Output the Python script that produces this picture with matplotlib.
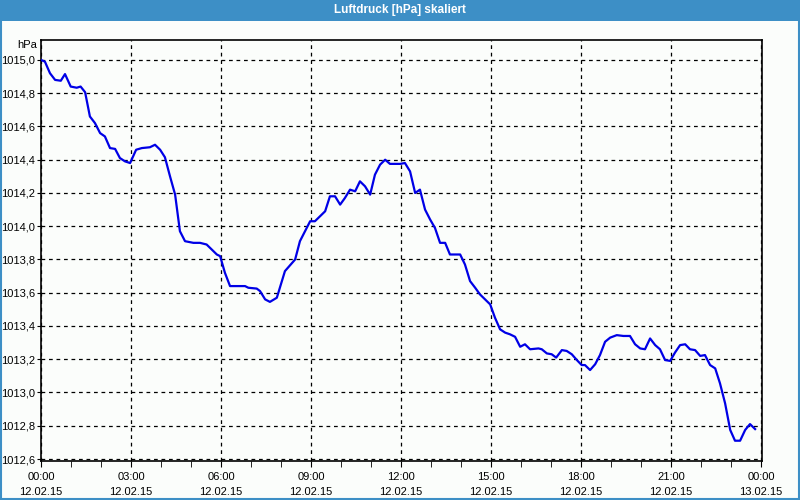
import matplotlib
matplotlib.use("Agg")
import matplotlib.pyplot as plt
from matplotlib.patches import Rectangle
from matplotlib.ticker import MultipleLocator, FuncFormatter

# hours since 12.02.15 00:00
hours = [0.00, 0.13, 0.30, 0.47, 0.66, 0.80, 0.99, 1.19, 1.32, 1.47, 1.63, 1.80,
         1.97, 2.13, 2.30, 2.47, 2.63, 2.80, 2.97, 3.17, 3.36, 3.63, 3.80, 3.97,
         4.13, 4.30, 4.47, 4.63, 4.80, 5.08, 5.30, 5.52, 5.69, 5.86, 5.97, 6.13,
         6.30, 6.80, 6.91, 7.19, 7.30, 7.47, 7.63, 7.86, 8.13, 8.47, 8.63, 8.97,
         9.13, 9.47, 9.63, 9.80, 9.97, 10.13, 10.30, 10.47, 10.63, 10.80, 10.97,
         11.13, 11.30, 11.47, 11.63, 11.97, 12.13, 12.30, 12.47, 12.63, 12.80,
         12.97, 13.13, 13.30, 13.47, 13.63, 13.97, 14.13, 14.30, 14.47, 14.63,
         14.80, 14.97, 15.13, 15.30, 15.47, 15.63, 15.80, 15.97, 16.13, 16.30,
         16.58, 16.69, 16.86, 17.02, 17.17, 17.36, 17.52, 17.69, 17.86, 18.02,
         18.13, 18.30, 18.47, 18.63, 18.80, 18.97, 19.19, 19.41, 19.63, 19.80,
         19.97, 20.13, 20.30, 20.47, 20.63, 20.80, 20.97, 21.13, 21.30, 21.47,
         21.63, 21.80, 21.97, 22.13, 22.30, 22.47, 22.63, 22.80, 22.97, 23.13,
         23.30, 23.47, 23.63, 23.80]

pressure = [1015.00, 1014.99, 1014.92, 1014.88, 1014.875, 1014.915, 1014.84, 1014.833,
            1014.84, 1014.806, 1014.66, 1014.62, 1014.56, 1014.54, 1014.47, 1014.465,
            1014.41, 1014.39, 1014.38, 1014.46, 1014.47, 1014.475, 1014.49, 1014.46,
            1014.415, 1014.30, 1014.19, 1013.97, 1013.91, 1013.90, 1013.90, 1013.89,
            1013.86, 1013.83, 1013.82, 1013.72, 1013.64, 1013.64, 1013.63, 1013.625,
            1013.61, 1013.56, 1013.545, 1013.57, 1013.73, 1013.80, 1013.91, 1014.03,
            1014.03, 1014.09, 1014.18, 1014.18, 1014.13, 1014.17, 1014.22, 1014.21,
            1014.27, 1014.24, 1014.19, 1014.31, 1014.37, 1014.40, 1014.375, 1014.375,
            1014.38, 1014.33, 1014.20, 1014.22, 1014.10, 1014.04, 1013.99, 1013.90,
            1013.90, 1013.83, 1013.83, 1013.77, 1013.67, 1013.63, 1013.59, 1013.56,
            1013.53, 1013.45, 1013.38, 1013.36, 1013.35, 1013.335, 1013.275, 1013.29,
            1013.26, 1013.265, 1013.26, 1013.235, 1013.23, 1013.21, 1013.255, 1013.25,
            1013.23, 1013.195, 1013.165, 1013.165, 1013.135, 1013.17, 1013.225, 1013.305,
            1013.33, 1013.345, 1013.34, 1013.34, 1013.29, 1013.265, 1013.26, 1013.325,
            1013.285, 1013.26, 1013.195, 1013.19, 1013.24, 1013.285, 1013.29, 1013.26,
            1013.255, 1013.22, 1013.225, 1013.165, 1013.145, 1013.055, 1012.935, 1012.775,
            1012.71, 1012.71, 1012.775, 1012.81, 1012.78]

x_ticks = [0, 3, 6, 9, 12, 15, 18, 21, 24]
x_labels = ["00:00\n12.02.15", "03:00\n12.02.15", "06:00\n12.02.15", "09:00\n12.02.15",
            "12:00\n12.02.15", "15:00\n12.02.15", "18:00\n12.02.15", "21:00\n12.02.15",
            "00:00\n13.02.15"]

TITLE = "Luftdruck [hPa] skaliert"
BAR = "#3d8fc6"
BG = "#fbfdfb"
LINE = "#0000e6"

plt.rcParams["font.family"] = "Liberation Sans"

fig = plt.figure(figsize=(8, 5), dpi=100, facecolor=BG)

# title bar and frame
fig.patches.append(Rectangle((0, 1 - 21 / 500), 1, 21 / 500, transform=fig.transFigure,
                             facecolor=BAR, edgecolor="none", zorder=0))
fig.patches.append(Rectangle((0.001, 0.002), 0.998, 0.996, transform=fig.transFigure,
                             facecolor="none", edgecolor=BAR, linewidth=1.5, zorder=1))
fig.text(0.5, 1 - 10.5 / 500, TITLE, color="white", fontsize=8.5, fontweight="bold",
         ha="center", va="center")

ax = fig.add_axes([41 / 800, 1 - 461 / 500, 721 / 800, 421 / 500])
ax.set_facecolor(BG)
ax.plot(hours, pressure, color=LINE, linewidth=1.6, zorder=3)

ax.set_xlim(0, 24.03)
ax.set_ylim(1012.588, 1015.12)

ax.set_xticks(x_ticks)
ax.set_xticklabels(x_labels, fontsize=8, linespacing=1.55)
ax.xaxis.set_minor_locator(MultipleLocator(1))
ax.yaxis.set_major_locator(MultipleLocator(0.2))
ax.yaxis.set_major_formatter(FuncFormatter(lambda v, p: f"{v:.1f}".replace(".", ",")))
ax.tick_params(axis="y", labelsize=8, length=3, pad=1)
ax.tick_params(axis="x", which="major", length=4, pad=4)
ax.tick_params(axis="x", which="minor", length=4)

ax.grid(True, which="major", color="black", linestyle=(0, (3, 3)), linewidth=0.9)
for s in ax.spines.values():
    s.set_linewidth(1.2)

ax.text(-0.005, 1.0 - 5 / 421, "hPa", transform=ax.transAxes, ha="right", va="center",
        fontsize=8)

fig.savefig("out.png", dpi=100, facecolor=BG)
